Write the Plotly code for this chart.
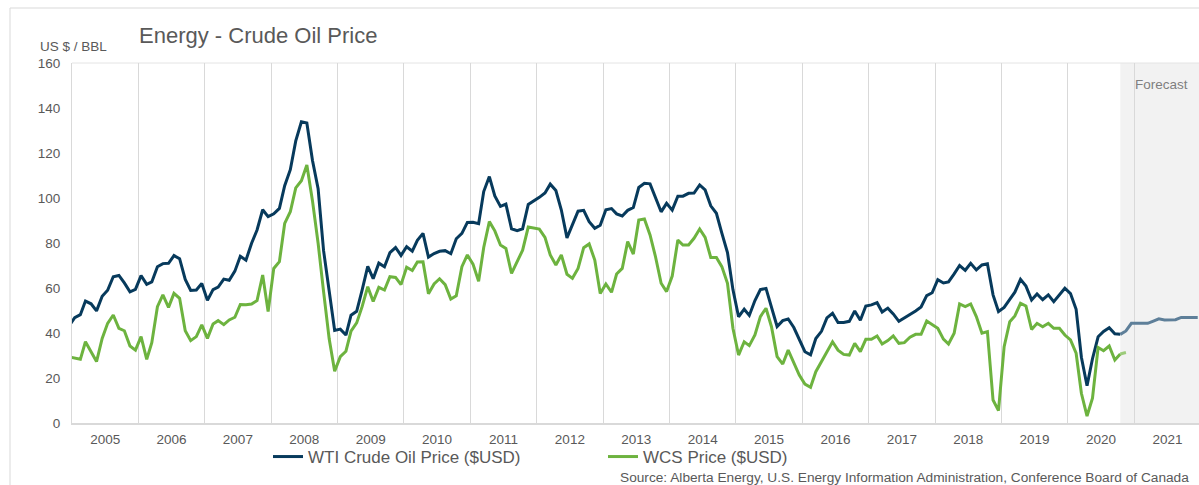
import pandas as pd
import plotly.graph_objects as go

# ---------------- data (monthly, Dec 2004 .. Oct 2020 actual) ----------------
wti_actual = [
    43.15,
    46.84, 48.15, 54.19, 52.98, 49.83, 56.35, 59.00, 64.99, 65.59, 62.26, 58.32, 59.41,
    65.49, 61.63, 62.69, 69.44, 70.84, 70.95, 74.41, 73.04, 63.80, 58.89, 59.08, 61.96,
    54.51, 59.28, 60.44, 63.98, 63.46, 67.49, 74.12, 72.36, 79.92, 85.80, 94.77, 91.69,
    92.97, 95.39, 105.45, 112.58, 125.40, 133.88, 133.37, 116.67, 104.11, 76.61, 57.31, 41.12,
    41.71, 39.09, 47.94, 49.65, 59.03, 69.64, 64.15, 71.05, 69.41, 75.72, 77.99, 74.47,
    78.33, 76.39, 81.20, 84.29, 73.74, 75.34, 76.32, 76.60, 75.24, 81.89, 84.25, 89.15,
    89.17, 88.58, 102.86, 109.53, 100.90, 96.26, 97.30, 86.33, 85.52, 86.32, 97.16, 98.56,
    100.27, 102.20, 106.16, 103.32, 94.66, 82.30, 87.90, 94.13, 94.51, 89.49, 86.53, 87.86,
    94.76, 95.31, 92.94, 92.02, 94.51, 95.77, 104.67, 106.57, 106.29, 100.54, 93.86, 97.63,
    94.62, 100.82, 100.80, 102.07, 102.18, 105.79, 103.59, 96.54, 93.21, 84.40, 75.79, 59.29,
    47.22, 50.58, 47.82, 54.45, 59.27, 59.82, 50.90, 42.87, 45.48, 46.22, 42.44, 37.19,
    31.68, 30.32, 37.55, 40.75, 46.71, 48.76, 44.65, 44.72, 45.18, 49.78, 45.66, 51.97,
    52.50, 53.47, 49.33, 51.06, 48.48, 45.18, 46.63, 48.04, 49.82, 51.58, 56.64, 57.88,
    63.70, 62.23, 62.73, 66.25, 69.98, 67.87, 70.98, 68.06, 70.23, 70.75, 56.96, 49.52,
    51.38, 54.95, 58.15, 63.86, 60.83, 54.66, 57.35, 54.81, 56.95, 53.96, 57.03, 59.88,
    57.52, 50.54, 29.21, 16.55, 28.56, 38.31, 40.71, 42.34, 39.63, 39.40,
]

wcs_actual = [
    29.4,
    29.0, 28.3, 36.1, 31.3, 27.3, 37.6, 44.3, 48.0, 42.1, 41.0, 34.2, 32.4,
    38.4, 28.3, 35.7, 51.7, 56.9, 51.4, 57.6, 55.4, 41.0, 36.6, 38.4, 43.6,
    37.6, 44.0, 45.5, 43.7, 45.8, 47.0, 52.7, 52.6, 52.9, 54.4, 65.8, 49.5,
    68.7, 71.7, 88.7, 93.9, 104.5, 107.7, 114.7, 98.7, 79.9, 58.4, 37.3, 23.0,
    29.5, 31.9, 40.8, 44.5, 51.7, 60.6, 54.0, 60.3, 59.1, 65.0, 64.7, 61.5,
    69.2, 67.8, 71.6, 71.7, 57.5, 61.8, 64.1, 61.5, 55.1, 56.5, 69.5, 74.7,
    70.6, 63.0, 78.0, 89.5, 85.4, 79.1, 77.6, 66.5, 71.5, 76.8, 87.1, 86.6,
    86.2, 82.5, 74.7, 70.2, 74.7, 66.1, 64.3, 68.7, 77.9, 79.6, 72.4, 57.6,
    61.8, 58.1, 66.2, 68.7, 80.6, 75.1, 90.2, 90.7, 83.6, 73.9, 62.1, 58.4,
    65.3, 81.3, 79.1, 79.1, 82.1, 86.2, 82.5, 73.6, 73.6, 69.5, 62.1, 42.1,
    30.2, 36.1, 34.4, 39.1, 47.3, 51.0, 42.8, 29.5, 26.2, 32.4, 26.5, 21.3,
    17.3, 15.9, 22.8, 27.3, 32.1, 36.1, 32.4, 30.5, 30.2, 35.4, 31.7, 37.2,
    37.2, 38.7, 35.1, 36.6, 38.7, 35.4, 35.7, 38.1, 39.4, 39.4, 45.3, 43.6,
    42.1, 37.3, 35.1, 39.9, 52.9, 51.7, 52.9, 47.3, 39.9, 40.6, 10.2, 5.5,
    33.9, 45.0, 47.6, 53.2, 52.0, 41.6, 44.3, 42.8, 44.3, 42.1, 42.1, 39.1,
    36.9, 31.0, 13.2, 3.1, 11.0, 33.6, 32.1, 34.2, 28.0, 30.7,
]

# forecast (Oct 2020 .. Dec 2021)
wti_forecast = [39.4, 40.9, 44.3, 44.3, 44.3, 44.3, 45.3, 46.3, 45.8, 45.8, 45.9, 46.9, 46.9, 46.9, 46.9]
wcs_forecast = [30.7, 31.3]

actual_dates = pd.date_range("2004-12-01", periods=len(wti_actual), freq="MS") + pd.Timedelta(days=15)
wti_fc_dates = pd.date_range("2020-10-01", periods=len(wti_forecast), freq="MS") + pd.Timedelta(days=15)
wcs_fc_dates = pd.date_range("2020-10-01", periods=len(wcs_forecast), freq="MS") + pd.Timedelta(days=15)

y_ticks = list(range(0, 161, 20))

# ---------------- figure ----------------
W, H = 1199, 485
L, R, T, B = 72, 0, 63, 62
PW, PH = W - L - R, H - T - B

def px(x):
    return (x - L) / PW

def py(y):
    return (H - B - y) / PH

FONT = "Liberation Sans, Arial, sans-serif"
GREY_TXT = "#595959"
NAVY = "#073a5c"
GREEN = "#6db33f"

fig = go.Figure()
fig.add_trace(go.Scatter(x=actual_dates, y=wti_actual, mode="lines", name="WTI Crude Oil Price ($USD)",
                         line=dict(color=NAVY, width=3)))
fig.add_trace(go.Scatter(x=actual_dates, y=wcs_actual, mode="lines", name="WCS Price ($USD)",
                         line=dict(color=GREEN, width=3)))
fig.add_trace(go.Scatter(x=wti_fc_dates, y=wti_forecast, mode="lines", showlegend=False,
                         line=dict(color="#5e7f99", width=3)))
fig.add_trace(go.Scatter(x=wcs_fc_dates, y=wcs_forecast, mode="lines", showlegend=False,
                         line=dict(color="#9ccb7a", width=3)))

x_start = "2005-01-01"
x_end = "2021-12-23"

fig.update_layout(
    width=W, height=H,
    margin=dict(l=L, r=R, t=T, b=B, autoexpand=False),
    paper_bgcolor="white", plot_bgcolor="white",
    font=dict(family=FONT, size=13.5, color=GREY_TXT),
    showlegend=True,
    legend=dict(orientation="h", x=px(268), y=py(457), xanchor="left", yanchor="middle",
                font=dict(size=17, color=GREY_TXT), entrywidth=290, itemwidth=30,
                bgcolor="rgba(0,0,0,0)", traceorder="normal"),
    xaxis=dict(
        type="date", range=[x_start, x_end],
        tick0="2005-01-01", dtick="M12", tickformat="%Y", ticklabelmode="period",
        showgrid=True, gridcolor="#d9d9d9", gridwidth=1,
        showline=True, linecolor="#d9d9d9", linewidth=2,
        ticks="outside", ticklen=3, tickcolor="rgba(0,0,0,0)",
        tickfont=dict(size=13.5, color=GREY_TXT), zeroline=False,
    ),
    yaxis=dict(
        range=[0, 160], tickvals=y_ticks, showgrid=False, zeroline=False,
        showline=True, linecolor="#d9d9d9", linewidth=1,
        ticks="outside", ticklen=8, tickcolor="rgba(0,0,0,0)",
        tickfont=dict(size=13.5, color=GREY_TXT),
    ),
    shapes=[
        dict(type="rect", xref="x", yref="paper", x0=actual_dates[-1], x1=x_end, y0=0, y1=1,
             fillcolor="#f2f2f2", line=dict(width=0), layer="below"),
        dict(type="line", xref="paper", yref="paper", x0=0, x1=1, y0=1, y1=1,
             line=dict(color="#e4e4e4", width=1), layer="below"),
        dict(type="rect", xref="paper", yref="paper", x0=px(10), x1=px(1230), y0=py(8), y1=py(520),
             line=dict(color="#d9d9d9", width=1), fillcolor="rgba(0,0,0,0)", layer="below"),
    ],
    annotations=[
        dict(text="Energy - Crude Oil Price", xref="paper", yref="paper", x=px(137), y=py(35),
             xanchor="left", yanchor="middle", showarrow=False, font=dict(size=22, color=GREY_TXT)),
        dict(text="US $ / BBL", xref="paper", yref="paper", x=px(38), y=py(47),
             xanchor="left", yanchor="middle", showarrow=False, font=dict(size=13.5, color=GREY_TXT)),
        dict(text="Forecast", xref="paper", yref="paper", x=px(1133), y=py(84),
             xanchor="left", yanchor="middle", showarrow=False, font=dict(size=13.5, color="#7f7f7f")),
        dict(text="Source: Alberta Energy, U.S. Energy Information Administration, Conference Board of Canada",
             xref="paper", yref="paper", x=px(1191), y=py(478), xanchor="right", yanchor="middle",
             showarrow=False, font=dict(size=13.7, color=GREY_TXT)),
    ],
)

fig.write_html(
    "out.html",
    config={"displayModeBar": False},
    post_script="document.body.style.margin='0px';document.body.style.overflow='hidden';",
)
